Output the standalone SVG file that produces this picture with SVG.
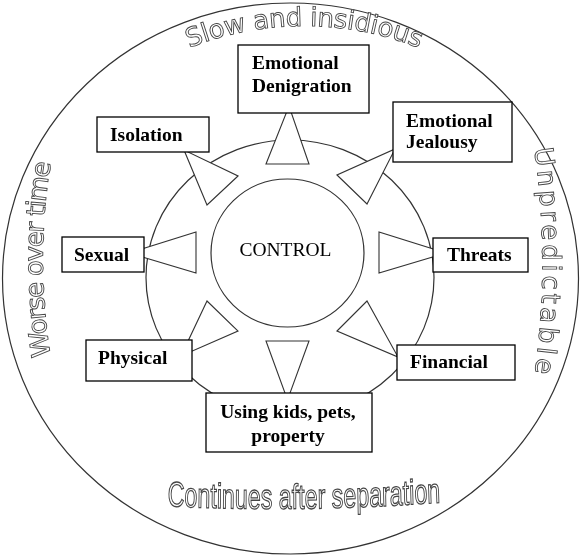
<svg xmlns="http://www.w3.org/2000/svg" width="582" height="558" viewBox="0 0 582 558">
<style>
.ring{fill:none;stroke:#333;stroke-width:1.2}
.inner{fill:#fff;stroke:#333;stroke-width:1.2}
.tri{fill:#fff;stroke:#333;stroke-width:1.1;stroke-linejoin:miter}
.box{fill:#fff;stroke:#000;stroke-width:1.3}
.lbl{font-family:"Liberation Serif","Times New Roman",serif;font-weight:bold;font-size:19.5px;fill:#000}
.ctl{font-family:"Liberation Serif","Times New Roman",serif;font-size:19.5px;fill:#000}
.outl{font-family:"DejaVu Sans",Verdana,sans-serif;font-size:26px;fill:#fff;stroke:#444;stroke-width:0.9}
.outn{font-family:"Liberation Sans",Arial,sans-serif;font-size:35px;fill:#fff;stroke:#444;stroke-width:1.3}
.layer{opacity:0.99}
</style>
<defs>
<path id="topArc" d="M -8,338 A 312 312 0 0 1 616,338"/>
<path id="leftArc" d="M 55,380 A 600 600 0 0 1 55,140"/>
<path id="rightArc" d="M 533,140 A 800 800 0 0 1 533,385"/>
<path id="botArc" d="M -280,503 A 4800 4800 0 0 0 280,498"/>
</defs>
<g id="background">
<ellipse class="ring" cx="290.5" cy="278.5" rx="288" ry="275.5"/>
<ellipse class="ring" cx="290" cy="277.5" rx="144" ry="137.5"/>
<g class="layer">
<text class="outl" font-size="24.5" letter-spacing="-0.3"><textPath href="#topArc" startOffset="50%" text-anchor="middle">Slow and insidious</textPath></text>
<text class="outl" letter-spacing="-1.4"><textPath href="#leftArc" startOffset="50%" text-anchor="middle">Worse over time</textPath></text>
<text class="outl" letter-spacing="3.6"><textPath href="#rightArc" startOffset="50%" text-anchor="middle">Unpredictable</textPath></text>
<g transform="translate(304,0) scale(0.665,1)">
<text class="outn"><textPath href="#botArc" startOffset="50%" text-anchor="middle">Continues after separation</textPath></text>
</g>
</g>
</g>
<g id="connectors">
<polygon class="tri" points="266,164 309,164 289,106"/>
<polygon class="tri" points="337,175 367,204 395,149"/>
<polygon class="tri" points="238,176 207,205 184,150"/>
<polygon class="tri" points="196,232 196,273 129,253"/>
<polygon class="tri" points="379,232 379,273 446,253"/>
<polygon class="tri" points="207,301 238,331 181,356"/>
<polygon class="tri" points="266,341 309,341 287.5,400"/>
<polygon class="tri" points="337,331 367,301 398,357"/>
</g>
<g id="control">
<ellipse class="inner" cx="287.5" cy="253" rx="76.5" ry="74"/>
<text class="ctl" x="285.5" y="256" text-anchor="middle">CONTROL</text>
</g>
<g id="emotional-denigration">
<rect class="box" x="238" y="45" width="131" height="68"/>
<text class="lbl" x="252" y="68.5">Emotional</text>
<text class="lbl" x="252" y="92">Denigration</text>
</g>
<g id="emotional-jealousy">
<rect class="box" x="393" y="102" width="119" height="60"/>
<text class="lbl" x="406" y="127">Emotional</text>
<text class="lbl" x="406" y="148">Jealousy</text>
</g>
<g id="isolation">
<rect class="box" x="97" y="117" width="112" height="35"/>
<text class="lbl" x="110" y="141">Isolation</text>
</g>
<g id="sexual">
<rect class="box" x="62" y="237" width="82" height="35"/>
<text class="lbl" x="74" y="261">Sexual</text>
</g>
<g id="threats">
<rect class="box" x="433" y="238" width="95" height="34"/>
<text class="lbl" x="447" y="261">Threats</text>
</g>
<g id="physical">
<rect class="box" x="86" y="340" width="106" height="41"/>
<text class="lbl" x="98" y="364">Physical</text>
</g>
<g id="financial">
<rect class="box" x="397" y="345" width="118" height="35"/>
<text class="lbl" x="410" y="368">Financial</text>
</g>
<g id="using-kids">
<rect class="box" x="206" y="393" width="166" height="59"/>
<text class="lbl" x="288" y="418" text-anchor="middle">Using kids, pets,</text>
<text class="lbl" x="288" y="442" text-anchor="middle">property</text>
</g>
</svg>
